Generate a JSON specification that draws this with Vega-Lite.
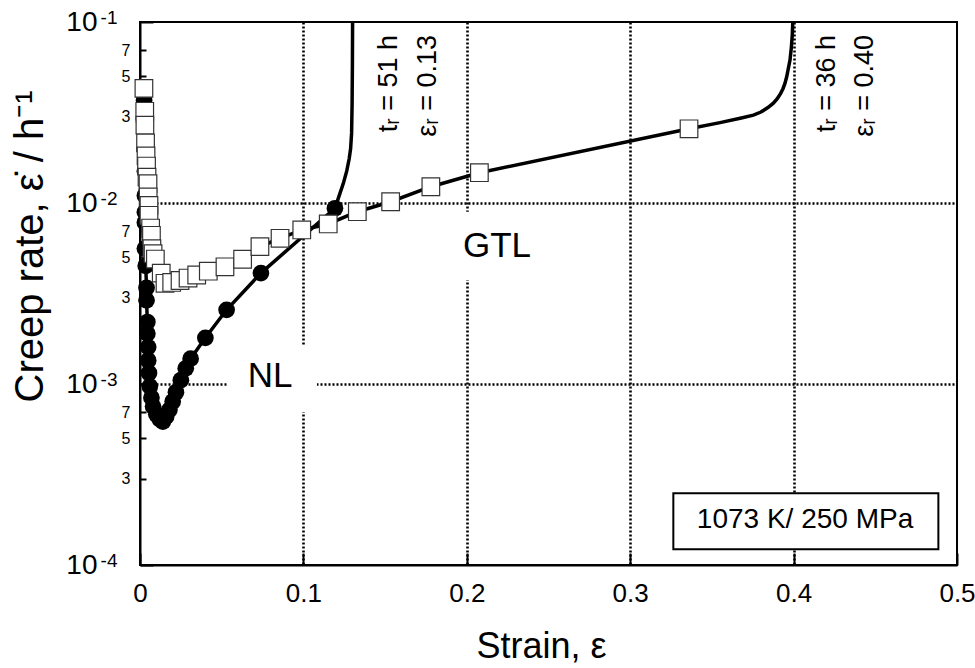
{
  "$schema": "https://vega.github.io/schema/vega-lite/v6.json",
  "width": 817,
  "height": 543,
  "autosize": {"type": "none"},
  "padding": {"left": 140, "top": 22, "right": 18, "bottom": 103},
  "background": "white",
  "config": {"view": {"stroke": "black", "strokeWidth": 2}, "font": "Liberation Sans"},
  "datasets": {
    "nl": [
      {"i": 1, "strain": 0.0025, "rate": 0.037, "m": 1},
      {"i": 2, "strain": 0.0025, "rate": 0.028, "m": 1},
      {"i": 3, "strain": 0.003, "rate": 0.02, "m": 1},
      {"i": 4, "strain": 0.003, "rate": 0.015, "m": 1},
      {"i": 5, "strain": 0.003, "rate": 0.011, "m": 1},
      {"i": 6, "strain": 0.003, "rate": 0.0089, "m": 1},
      {"i": 7, "strain": 0.003, "rate": 0.0078, "m": 1},
      {"i": 8, "strain": 0.003, "rate": 0.0056, "m": 1},
      {"i": 9, "strain": 0.0035, "rate": 0.0045, "m": 1},
      {"i": 10, "strain": 0.004, "rate": 0.0034, "m": 1},
      {"i": 11, "strain": 0.004, "rate": 0.0029, "m": 1},
      {"i": 12, "strain": 0.0045, "rate": 0.0022, "m": 1},
      {"i": 13, "strain": 0.0045, "rate": 0.0019, "m": 1},
      {"i": 14, "strain": 0.005, "rate": 0.0016, "m": 1},
      {"i": 15, "strain": 0.005, "rate": 0.00135, "m": 1},
      {"i": 16, "strain": 0.0055, "rate": 0.00115, "m": 1},
      {"i": 17, "strain": 0.006, "rate": 0.00097, "m": 1},
      {"i": 18, "strain": 0.007, "rate": 0.00084, "m": 1},
      {"i": 19, "strain": 0.008, "rate": 0.00075, "m": 1},
      {"i": 20, "strain": 0.010, "rate": 0.00068, "m": 1},
      {"i": 21, "strain": 0.012, "rate": 0.00064, "m": 1},
      {"i": 22, "strain": 0.014, "rate": 0.00062, "m": 1},
      {"i": 23, "strain": 0.016, "rate": 0.00066, "m": 1},
      {"i": 24, "strain": 0.018, "rate": 0.00072, "m": 1},
      {"i": 25, "strain": 0.020, "rate": 0.0008, "m": 1},
      {"i": 26, "strain": 0.022, "rate": 0.0009, "m": 1},
      {"i": 27, "strain": 0.025, "rate": 0.00105, "m": 1},
      {"i": 28, "strain": 0.028, "rate": 0.00122, "m": 1},
      {"i": 29, "strain": 0.031, "rate": 0.00138, "m": 1},
      {"i": 30, "strain": 0.040, "rate": 0.0018, "m": 1},
      {"i": 31, "strain": 0.053, "rate": 0.00257, "m": 1},
      {"i": 32, "strain": 0.074, "rate": 0.0041, "m": 1},
      {"i": 33, "strain": 0.1193, "rate": 0.00935, "m": 1},
      {"i": 34, "strain": 0.1215, "rate": 0.0107, "m": 0},
      {"i": 35, "strain": 0.1244, "rate": 0.0128, "m": 0},
      {"i": 36, "strain": 0.1265, "rate": 0.015, "m": 0},
      {"i": 37, "strain": 0.128, "rate": 0.0175, "m": 0},
      {"i": 38, "strain": 0.1289, "rate": 0.02, "m": 0},
      {"i": 39, "strain": 0.1295, "rate": 0.0244, "m": 0},
      {"i": 40, "strain": 0.1298, "rate": 0.035, "m": 0},
      {"i": 41, "strain": 0.13, "rate": 0.06, "m": 0},
      {"i": 42, "strain": 0.1301, "rate": 0.1, "m": 0}
    ],
    "gtl": [
      {"i": 1, "strain": 0.0024, "rate": 0.043, "m": 1},
      {"i": 2, "strain": 0.0029, "rate": 0.0321, "m": 1},
      {"i": 3, "strain": 0.003, "rate": 0.0269, "m": 1},
      {"i": 4, "strain": 0.0034, "rate": 0.0215, "m": 1},
      {"i": 5, "strain": 0.0037, "rate": 0.0182, "m": 1},
      {"i": 6, "strain": 0.004, "rate": 0.016, "m": 1},
      {"i": 7, "strain": 0.0043, "rate": 0.0139, "m": 1},
      {"i": 8, "strain": 0.0049, "rate": 0.0128, "m": 1},
      {"i": 9, "strain": 0.005, "rate": 0.0108, "m": 1},
      {"i": 10, "strain": 0.0055, "rate": 0.0097, "m": 1},
      {"i": 11, "strain": 0.0055, "rate": 0.00855, "m": 1},
      {"i": 12, "strain": 0.0065, "rate": 0.00727, "m": 1},
      {"i": 13, "strain": 0.007, "rate": 0.00663, "m": 1},
      {"i": 14, "strain": 0.0073, "rate": 0.00559, "m": 1},
      {"i": 15, "strain": 0.008, "rate": 0.00525, "m": 1},
      {"i": 16, "strain": 0.0094, "rate": 0.0049, "m": 1},
      {"i": 17, "strain": 0.013, "rate": 0.0041, "m": 1},
      {"i": 18, "strain": 0.0153, "rate": 0.0036, "m": 1},
      {"i": 19, "strain": 0.0194, "rate": 0.00364, "m": 1},
      {"i": 20, "strain": 0.0245, "rate": 0.00373, "m": 1},
      {"i": 21, "strain": 0.0294, "rate": 0.00385, "m": 1},
      {"i": 22, "strain": 0.0347, "rate": 0.004, "m": 1},
      {"i": 23, "strain": 0.0418, "rate": 0.0042, "m": 1},
      {"i": 24, "strain": 0.052, "rate": 0.00444, "m": 1},
      {"i": 25, "strain": 0.0628, "rate": 0.00489, "m": 1},
      {"i": 26, "strain": 0.0734, "rate": 0.00574, "m": 1},
      {"i": 27, "strain": 0.0857, "rate": 0.00638, "m": 1},
      {"i": 28, "strain": 0.099, "rate": 0.0071, "m": 1},
      {"i": 29, "strain": 0.1152, "rate": 0.00766, "m": 1},
      {"i": 30, "strain": 0.133, "rate": 0.00895, "m": 1},
      {"i": 31, "strain": 0.1534, "rate": 0.01016, "m": 1},
      {"i": 32, "strain": 0.178, "rate": 0.0123, "m": 1},
      {"i": 33, "strain": 0.2077, "rate": 0.0147, "m": 1},
      {"i": 34, "strain": 0.336, "rate": 0.0257, "m": 1},
      {"i": 35, "strain": 0.355, "rate": 0.0278, "m": 0},
      {"i": 36, "strain": 0.368, "rate": 0.0295, "m": 0},
      {"i": 37, "strain": 0.3754, "rate": 0.0306, "m": 0},
      {"i": 38, "strain": 0.38, "rate": 0.0318, "m": 0},
      {"i": 39, "strain": 0.3845, "rate": 0.0338, "m": 0},
      {"i": 40, "strain": 0.3876, "rate": 0.0356, "m": 0},
      {"i": 41, "strain": 0.39, "rate": 0.0377, "m": 0},
      {"i": 42, "strain": 0.392, "rate": 0.0402, "m": 0},
      {"i": 43, "strain": 0.3935, "rate": 0.0428, "m": 0},
      {"i": 44, "strain": 0.3947, "rate": 0.0458, "m": 0},
      {"i": 45, "strain": 0.3958, "rate": 0.05, "m": 0},
      {"i": 46, "strain": 0.3968, "rate": 0.0555, "m": 0},
      {"i": 47, "strain": 0.3978, "rate": 0.0616, "m": 0},
      {"i": 48, "strain": 0.3986, "rate": 0.072, "m": 0},
      {"i": 49, "strain": 0.3992, "rate": 0.085, "m": 0},
      {"i": 50, "strain": 0.3995, "rate": 0.1, "m": 0}
    ],
    "masks": [
      {"strain": 0.0532, "strain2": 0.1083, "rate": 0.0007, "rate2": 0.00164},
      {"strain": 0.1928, "strain2": 0.2448, "rate": 0.00376, "rate2": 0.00895}
    ],
    "box": [
      {"strain": 0.3264, "strain2": 0.4886, "rate": 0.000122, "rate2": 0.000249}
    ],
    "labels": [
      {"strain": 0.0796, "rate": 0.001114, "label": "NL"},
      {"strain": 0.2185, "rate": 0.00581, "label": "GTL"}
    ],
    "boxlabel": [
      {"strain": 0.407, "rate": 0.0001775, "label": "1073 K/ 250 MPa"}
    ],
    "notes": [
      {"strain": 0.1524, "rate": 0.0848, "label": "tᵣ = 51 h"},
      {"strain": 0.1763, "rate": 0.0848, "label": "εᵣ = 0.13"},
      {"strain": 0.4204, "rate": 0.0848, "label": "tᵣ = 36 h"},
      {"strain": 0.4437, "rate": 0.0848, "label": "εᵣ = 0.40"}
    ]
  },
  "resolve": {"axis": {"y": "independent"}},
  "encoding": {
    "x": {
      "field": "strain",
      "type": "quantitative",
      "title": "Strain, ε",
      "scale": {"domain": [0, 0.5], "nice": false, "zero": false},
      "axis": {
        "values": [0, 0.1, 0.2, 0.3, 0.4, 0.5],
        "labelExpr": "datum.value == 0 ? '0' : format(datum.value, '.1f')",
        "labelFontSize": 26,
        "labelColor": "black",
        "labelPadding": 27,
        "labelFlush": false,
        "tickSize": -12,
        "tickWidth": 2,
        "tickColor": "black",
        "domainColor": "black",
        "domainWidth": 2,
        "grid": true,
        "gridColor": "black",
        "gridWidth": 2.6,
        "gridDash": [2, 2],
        "gridOpacity": {"condition": {"test": "datum.value > 0.01 && datum.value < 0.49", "value": 1}, "value": 0},
        "titleFontSize": 36,
        "titleFontWeight": "normal",
        "titleColor": "black",
        "titleBaseline": "alphabetic",
        "titleX": 401,
        "titleY": 92
      }
    }
  },
  "layer": [
    {
      "encoding": {
        "y": {
          "field": "rate",
          "type": "quantitative",
          "title": "Creep rate, ε̇ / h⁻¹",
          "scale": {"type": "log", "domain": [0.0001, 0.1], "nice": false},
          "axis": {
            "orient": "left",
            "values": [0.0001, 0.0003, 0.0005, 0.0007, 0.001, 0.003, 0.005, 0.007, 0.01, 0.03, 0.05, 0.07, 0.1],
            "labelExpr": "abs(log(datum.value)/LN10 - round(log(datum.value)/LN10)) < 0.01 ? '10' : '' + round(datum.value / pow(10, floor(log(datum.value)/LN10 + 0.0001)))",
            "labelFontSize": {"condition": {"test": "abs(log(datum.value)/LN10 - round(log(datum.value)/LN10)) < 0.01", "value": 28}, "value": 16},
            "labelPadding": {"condition": {"test": "abs(log(datum.value)/LN10 - round(log(datum.value)/LN10)) < 0.01", "value": 56}, "value": 16},
            "labelColor": "black",
            "labelFlush": false,
            "labelOverlap": false,
            "tickSize": {"condition": {"test": "abs(log(datum.value)/LN10 - round(log(datum.value)/LN10)) < 0.01", "value": -13}, "value": -6},
            "tickWidth": 2,
            "tickColor": "black",
            "domainColor": "black",
            "domainWidth": 2,
            "grid": true,
            "gridColor": "black",
            "gridWidth": 2.6,
            "gridDash": [2, 2],
            "gridOpacity": {"condition": {"test": "(datum.value > 0.0009 && datum.value < 0.0011) || (datum.value > 0.009 && datum.value < 0.011)", "value": 1}, "value": 0},
            "titleFontSize": 40,
            "titleFontWeight": "normal",
            "titleColor": "black",
            "titleBaseline": "alphabetic",
            "titleX": -98,
            "titleY": 224
          }
        }
      },
      "layer": [
        {
          "data": {"name": "masks"},
          "mark": {"type": "rect", "fill": "white", "strokeWidth": 0},
          "encoding": {"x2": {"field": "strain2"}, "y2": {"field": "rate2"}}
        },
        {
          "data": {"name": "nl"},
          "mark": {"type": "line", "stroke": "black", "strokeWidth": 3.5, "clip": true},
          "encoding": {"order": {"field": "i", "type": "quantitative"}}
        },
        {
          "data": {"name": "nl"},
          "transform": [{"filter": "datum.m == 1"}],
          "mark": {"type": "point", "shape": "circle", "filled": true, "fill": "black", "opacity": 1, "size": 280}
        },
        {
          "data": {"name": "gtl"},
          "mark": {"type": "line", "stroke": "black", "strokeWidth": 3.5, "clip": true},
          "encoding": {"order": {"field": "i", "type": "quantitative"}}
        },
        {
          "data": {"name": "gtl"},
          "transform": [{"filter": "datum.m == 1"}],
          "mark": {"type": "point", "shape": "square", "filled": true, "fill": "white", "stroke": "#333333", "strokeWidth": 1.2, "opacity": 1, "size": 310}
        },
        {
          "data": {"name": "box"},
          "mark": {"type": "rect", "fill": "white", "stroke": "black", "strokeWidth": 2},
          "encoding": {"x2": {"field": "strain2"}, "y2": {"field": "rate2"}}
        },
        {
          "data": {"name": "labels"},
          "mark": {"type": "text", "fontSize": 35, "align": "center", "baseline": "middle", "color": "black"},
          "encoding": {"text": {"field": "label"}}
        },
        {
          "data": {"name": "notes"},
          "mark": {"type": "text", "fontSize": 27, "angle": 270, "align": "right", "baseline": "middle", "color": "black"},
          "encoding": {"text": {"field": "label"}}
        }
      ]
    },
    {
      "data": {"name": "boxlabel"},
      "mark": {"type": "text", "fontSize": 28, "align": "center", "baseline": "middle", "color": "black"},
      "encoding": {
        "y": {
          "field": "rate",
          "type": "quantitative",
          "scale": {"type": "log", "domain": [0.0001, 0.1], "nice": false},
          "axis": {
            "orient": "left",
            "title": null,
            "values": [0.0001, 0.001, 0.01, 0.1],
            "labelExpr": "'-' + round(-log(datum.value)/LN10)",
            "labelFontSize": 19,
            "labelPadding": 23,
            "labelOffset": -5,
            "labelColor": "black",
            "labelFlush": false,
            "labelOverlap": false,
            "ticks": false,
            "domain": false,
            "grid": false
          }
        },
        "text": {"field": "label"}
      }
    }
  ]
}
